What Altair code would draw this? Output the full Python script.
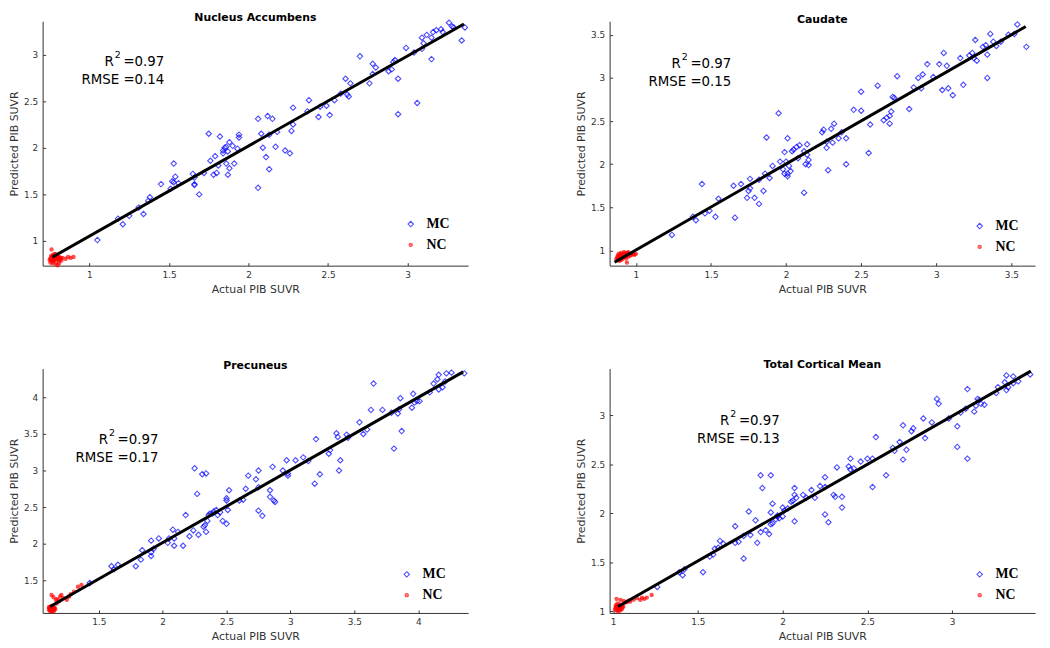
import altair as alt
import pandas as pd

# ---------------- data ----------------
titles = ["Nucleus Accumbens", "Caudate", "Precuneus", "Total Cortical Mean"]
groups = ["MC", "NC"]
r2_values = ["0.97", "0.97", "0.97", "0.97"]
rmse_values = ["0.14", "0.15", "0.17", "0.13"]

# Nucleus Accumbens (actual, predicted)
acc_mc = [(1.05,1.01),(1.18,1.24),(1.21,1.18),(1.25,1.27),(1.31,1.36),(1.34,1.29),(1.37,1.43),(1.38,1.47),
          (1.45,1.61),(1.51,1.56),(1.52,1.64),(1.53,1.83),(1.53,1.63),(1.54,1.69),(1.56,1.62),(1.65,1.72),
          (1.66,1.68),(1.66,1.61),(1.66,1.60),(1.69,1.50),(1.72,1.73),(1.75,2.15),(1.76,1.86),(1.78,1.71),
          (1.79,1.91),(1.80,1.73),(1.81,1.81),(1.82,2.12),(1.84,1.97),(1.84,1.94),(1.85,2.00),(1.86,1.83),
          (1.86,2.01),(1.87,1.71),(1.87,1.96),(1.88,2.06),(1.88,1.78),(1.90,2.02),(1.91,1.83),(1.93,1.99),
          (1.94,2.14),(1.94,2.11),(2.06,2.31),(2.06,1.57),(2.08,2.15),(2.09,2.00),(2.11,1.90),(2.12,2.34),
          (2.13,1.77),(2.13,2.14),(2.15,2.31),(2.17,2.01),(2.18,2.17),(2.23,1.97),(2.26,1.94),(2.27,2.18),
          (2.28,2.25),(2.28,2.43),(2.37,2.39),(2.38,2.51),(2.44,2.33),(2.45,2.44),(2.49,2.45),(2.51,2.35),
          (2.54,2.51),(2.58,2.58),(2.61,2.74),(2.62,2.57),(2.63,2.55),(2.64,2.69),(2.70,2.98),(2.76,2.69),
          (2.78,2.79),(2.78,2.90),(2.80,2.86),(2.88,2.82),(2.90,2.84),(2.91,2.92),(2.92,2.94),(2.94,2.74),
          (2.94,2.36),(2.99,3.07),(3.04,3.02),(3.06,2.48),(3.09,3.06),(3.09,3.18),(3.10,3.12),(3.12,3.21),
          (3.15,3.18),(3.15,2.95),(3.16,3.24),(3.18,3.26),(3.21,3.27),(3.22,3.24),(3.26,3.34),(3.28,3.30),
          (3.29,3.29),(3.34,3.15),(3.36,3.29)]
acc_nc = [(0.75,0.80),(0.755,0.81),(0.76,0.79),(0.76,0.82),(0.765,0.80),(0.765,0.83),(0.77,0.81),(0.77,0.78),
          (0.77,0.85),(0.775,0.82),(0.775,0.80),(0.78,0.84),(0.78,0.79),(0.785,0.82),(0.785,0.86),(0.79,0.81),
          (0.79,0.83),(0.795,0.80),(0.80,0.84),(0.80,0.82),(0.805,0.82),(0.81,0.83),(0.81,0.79),(0.815,0.81),
          (0.82,0.82),(0.83,0.82),(0.85,0.81),(0.866,0.83),(0.882,0.82),(0.90,0.83),(0.762,0.91),(0.782,0.86),
          (0.795,0.845),(0.824,0.79),(0.81,0.765),(0.789,0.757),(0.80,0.74),(0.755,0.77),(0.77,0.76),(0.76,0.84)]
acc_fit = [(0.768,0.828),(3.354,3.327)]

# Caudate
cau_mc = [(1.24,1.18),(1.38,1.39),(1.40,1.35),(1.44,1.77),(1.46,1.43),(1.49,1.46),(1.53,1.39),(1.55,1.60),
          (1.65,1.75),(1.66,1.38),(1.70,1.77),(1.74,1.61),(1.75,1.69),(1.76,1.72),(1.76,1.83),(1.79,1.61),
          (1.82,1.54),(1.82,1.82),(1.85,1.69),(1.86,1.89),(1.87,2.31),(1.89,1.84),(1.91,1.98),(1.95,2.59),
          (1.96,2.03),(1.98,1.94),(1.99,2.14),(1.99,1.89),(2.00,2.03),(2.01,1.86),(2.01,2.30),(2.01,1.89),
          (2.02,1.98),(2.03,1.92),(2.04,2.15),(2.05,2.17),(2.07,2.20),(2.08,2.07),(2.09,2.22),(2.12,2.15),
          (2.12,1.67),(2.13,2.00),(2.14,2.23),(2.14,2.11),(2.15,2.05),(2.15,1.99),(2.24,2.37),(2.25,2.40),
          (2.27,2.26),(2.27,2.19),(2.28,1.93),(2.30,2.41),(2.31,2.25),(2.32,2.47),(2.35,2.30),(2.37,2.37),
          (2.40,2.00),(2.40,2.30),(2.45,2.63),(2.50,2.84),(2.50,2.62),(2.55,2.13),(2.56,2.46),(2.61,2.91),
          (2.65,2.51),(2.67,2.54),(2.69,2.56),(2.69,2.47),(2.70,2.61),(2.71,2.78),(2.72,2.77),(2.74,3.02),
          (2.82,2.64),(2.85,2.89),(2.88,3.00),(2.90,2.88),(2.91,3.04),(2.94,3.16),(2.98,3.01),(3.02,3.16),
          (3.04,2.86),(3.05,3.29),(3.07,3.14),(3.08,2.88),(3.11,2.80),(3.18,2.92),(3.16,3.23),(3.22,3.26),
          (3.24,3.29),(3.25,3.23),(3.26,3.44),(3.27,3.20),(3.31,3.36),(3.33,3.38),(3.34,3.00),(3.34,3.27),
          (3.36,3.51),(3.38,3.42),(3.40,3.37),(3.43,3.42),(3.48,3.50),(3.52,3.51),(3.54,3.62),(3.60,3.36)]
cau_nc = [(0.87,0.90),(0.875,0.92),(0.88,0.89),(0.88,0.94),(0.885,0.91),(0.89,0.93),(0.89,0.88),(0.895,0.95),
          (0.90,0.91),(0.90,0.97),(0.905,0.93),(0.91,0.90),(0.91,0.96),(0.915,0.94),(0.92,0.92),(0.92,0.98),
          (0.925,0.95),(0.93,0.93),(0.93,0.97),(0.935,0.91),(0.94,0.95),(0.94,0.86),(0.945,0.97),(0.95,0.93),
          (0.955,0.96),(0.96,0.94),(0.97,0.95),(0.98,0.96),(0.99,0.95),(1.00,0.96),(0.90,0.89),(0.885,0.96),
          (0.95,0.98)]
cau_fit = [(0.858,0.863),(3.596,3.596)]

# Precuneus
pre_mc = [(1.43,1.46),(1.60,1.69),(1.62,1.65),(1.65,1.71),(1.79,1.69),(1.83,1.78),(1.84,1.91),(1.91,1.83),
          (1.91,2.04),(1.91,1.88),(1.93,1.93),(1.97,2.07),(2.04,2.01),(2.05,2.07),(2.08,2.19),(2.09,2.07),
          (2.09,1.97),(2.12,2.16),(2.16,1.97),(2.18,2.39),(2.21,2.10),(2.24,2.18),(2.25,3.03),(2.27,2.68),
          (2.28,2.12),(2.31,2.95),(2.32,2.23),(2.33,2.25),(2.34,2.16),(2.34,2.96),(2.35,2.31),(2.36,2.39),
          (2.37,2.41),(2.39,2.41),(2.40,2.44),(2.42,2.46),(2.43,2.39),(2.45,2.43),(2.47,2.31),(2.50,2.62),
          (2.50,2.27),(2.50,2.59),(2.51,2.46),(2.52,2.73),(2.60,2.59),(2.63,2.60),(2.65,2.75),(2.67,2.93),
          (2.73,2.88),(2.75,2.45),(2.75,3.00),(2.75,2.77),(2.78,2.38),(2.84,2.73),(2.84,2.64),(2.86,3.05),
          (2.87,2.59),(2.88,2.57),(2.94,3.00),(2.97,3.14),(2.98,2.96),(2.98,2.93),(3.04,3.14),(3.10,3.18),
          (3.14,3.13),(3.19,2.82),(3.20,3.43),(3.23,2.95),(3.30,3.23),(3.31,3.28),(3.36,3.51),(3.37,3.46),
          (3.38,3.00),(3.39,3.14),(3.44,3.49),(3.45,3.45),(3.54,3.66),(3.57,3.50),(3.60,3.56),(3.63,3.83),
          (3.65,4.19),(3.72,3.83),(3.79,3.79),(3.81,3.30),(3.84,3.78),(3.85,3.84),(3.86,3.99),(3.87,3.54),
          (3.95,3.86),(3.96,4.05),(3.97,3.93),(3.99,3.95),(4.01,3.95),(4.09,4.07),(4.12,4.19),(4.15,4.25),
          (4.16,4.31),(4.16,4.11),(4.19,4.14),(4.21,4.22),(4.22,4.33),(4.26,4.34),(4.36,4.33)]
pre_nc = [(1.11,1.10),(1.115,1.12),(1.12,1.09),(1.12,1.13),(1.125,1.11),(1.13,1.08),(1.13,1.14),(1.135,1.10),
          (1.14,1.12),(1.14,1.09),(1.145,1.13),(1.15,1.11),(1.15,1.08),(1.155,1.12),(1.12,1.11),(1.13,1.12),
          (1.14,1.15),(1.115,1.08),(1.125,1.14),(1.135,1.07),(1.145,1.10),(1.11,1.13),(1.16,1.10),
          (1.131,1.297),(1.146,1.266),(1.164,1.23),(1.177,1.24),(1.198,1.275),(1.208,1.297),(1.224,1.253),
          (1.25,1.23),(1.268,1.275),(1.28,1.307),(1.306,1.342),(1.337,1.41),(1.365,1.432),(1.19,1.21),(1.17,1.18)]
pre_fit = [(1.121,1.139),(4.351,4.351)]

# Total Cortical Mean
tot_mc = [(1.26,1.25),(1.39,1.40),(1.41,1.37),(1.42,1.43),(1.53,1.40),(1.57,1.56),(1.59,1.58),(1.60,1.64),
          (1.62,1.65),(1.63,1.72),(1.65,1.69),(1.72,1.70),(1.72,1.87),(1.74,1.71),(1.77,1.54),(1.77,1.77),
          (1.80,2.02),(1.81,1.78),(1.84,1.93),(1.85,1.70),(1.87,1.81),(1.87,2.39),(1.88,2.26),(1.90,1.83),
          (1.92,1.79),(1.93,2.39),(1.93,1.89),(1.93,2.01),(1.94,2.10),(1.94,1.90),(1.96,1.94),(1.97,1.97),
          (1.97,1.98),(1.98,1.95),(2.00,1.97),(2.00,2.06),(2.01,2.03),(2.03,2.05),(2.05,2.12),(2.06,2.13),
          (2.07,2.19),(2.07,2.26),(2.07,1.92),(2.08,2.16),(2.12,2.19),(2.14,2.16),(2.17,2.24),(2.19,2.16),
          (2.22,2.28),(2.25,1.99),(2.25,2.37),(2.25,2.27),(2.27,1.91),(2.30,2.19),(2.31,2.17),(2.32,2.47),
          (2.35,2.06),(2.35,2.17),(2.39,2.48),(2.40,2.56),(2.40,2.45),(2.42,2.46),(2.46,2.53),(2.50,2.56),
          (2.53,2.56),(2.53,2.27),(2.55,2.78),(2.61,2.39),(2.65,2.67),(2.66,2.64),(2.69,2.73),(2.71,2.55),
          (2.71,2.90),(2.73,2.65),(2.76,2.84),(2.77,2.87),(2.83,2.97),(2.84,2.77),(2.88,2.93),(2.91,3.17),
          (2.92,3.12),(2.98,2.97),(3.03,2.68),(3.03,2.89),(3.05,3.03),(3.08,3.07),(3.09,2.56),(3.09,3.27),
          (3.13,3.04),(3.14,3.10),(3.15,3.17),(3.16,3.16),(3.17,3.12),(3.19,3.11),(3.26,3.23),(3.27,3.29),
          (3.31,3.34),(3.32,3.41),(3.32,3.26),(3.33,3.29),(3.36,3.40),(3.36,3.33),(3.39,3.35),(3.46,3.42)]
tot_nc = [(1.01,1.02),(1.015,1.04),(1.02,1.01),(1.02,1.05),(1.025,1.03),(1.03,1.02),(1.03,1.06),(1.035,1.04),
          (1.04,1.01),(1.04,1.05),(1.045,1.03),(1.05,1.06),(1.05,1.02),(1.02,1.03),(1.03,1.00),(1.04,1.07),
          (1.015,1.06),(1.055,1.04),(1.06,1.05),(1.025,1.08),(1.02,1.128),(1.043,1.118),(1.062,1.108),
          (1.082,1.095),(1.10,1.10),(1.14,1.135),(1.16,1.118),(1.183,1.128),(1.198,1.141),(1.227,1.168),
          (1.17,1.14),(1.07,1.09),(1.09,1.11),(1.12,1.12)]
tot_fit = [(1.029,1.05),(3.464,3.454)]

x_domains = [(0.706, 3.38), (0.825, 3.658), (1.061, 4.39), (0.979, 3.489)]
y_domains = [(0.736, 3.356), (0.824, 3.657), (1.05, 4.396), (0.984, 3.48)]
x_ticks = [[1, 1.5, 2, 2.5, 3], [1, 1.5, 2, 2.5, 3, 3.5], [1.5, 2, 2.5, 3, 3.5, 4], [1, 1.5, 2, 2.5, 3]]
y_ticks = [[1, 1.5, 2, 2.5, 3], [1, 1.5, 2, 2.5, 3, 3.5], [1.5, 2, 2.5, 3, 3.5, 4], [1, 1.5, 2, 2.5, 3]]

mc_sets = [acc_mc, cau_mc, pre_mc, tot_mc]
nc_sets = [acc_nc, cau_nc, pre_nc, tot_nc]
fit_sets = [acc_fit, cau_fit, pre_fit, tot_fit]

# ---------------- layout / style ----------------
W, H = 430, 247
ann_pos = [(123, 45, 63), (123, 47, 65), (117, 76, 94), (172, 57, 75)]
legend_pos = [(365, 198), (367, 200), (361, 201), (367, 201)]

BLUE = "#0000ff"
RED = "#ff0000"
FONT = "DejaVu Sans"


def ann_text(txt, x, y, size, align):
    return alt.Chart(pd.DataFrame({"t": [txt]})).mark_text(
        align=align, baseline="alphabetic", fontSize=size, font=FONT, color="black"
    ).encode(x=alt.value(x), y=alt.value(y), text="t:N")


def panel(i):
    rows = [{"actual": a, "pred": p, "group": "MC"} for a, p in mc_sets[i]]
    rows += [{"actual": a, "pred": p, "group": "NC"} for a, p in nc_sets[i]]
    df = pd.DataFrame(rows)
    fit = pd.DataFrame(fit_sets[i], columns=["actual", "pred"])

    xs = alt.Scale(domain=list(x_domains[i]), nice=False, zero=False)
    ys = alt.Scale(domain=list(y_domains[i]), nice=False, zero=False)
    lx, ly = legend_pos[i]
    leg = alt.Legend(orient="none", legendX=lx, legendY=ly, title=None,
                     labelFont="Liberation Serif", labelFontWeight="bold",
                     labelFontSize=14, labelColor="black", labelOffset=9,
                     rowPadding=7, symbolStrokeWidth=1.1, padding=0)

    pts = alt.Chart(df).mark_point(strokeWidth=1.1).encode(
        x=alt.X("actual:Q", scale=xs,
                axis=alt.Axis(values=x_ticks[i], title="Actual PIB SUVR", format="~g")),
        y=alt.Y("pred:Q", scale=ys,
                axis=alt.Axis(values=y_ticks[i], title="Predicted PIB SUVR", format="~g")),
        shape=alt.Shape("group:N", scale=alt.Scale(domain=groups, range=["diamond", "circle"]), legend=leg),
        stroke=alt.Stroke("group:N", scale=alt.Scale(domain=groups, range=[BLUE, RED]), legend=leg),
        fill=alt.Fill("group:N", scale=alt.Scale(domain=groups, range=["transparent", RED]), legend=leg),
        size=alt.Size("group:N", scale=alt.Scale(domain=groups, range=[30, 11]), legend=leg),
    )

    line = alt.Chart(fit).mark_line(color="black", strokeWidth=3).encode(
        x=alt.X("actual:Q", scale=xs,
                axis=alt.Axis(orient="top", offset=-H, labels=False, domain=False, ticks=True,
                              tickSize=3, tickColor="#333333", values=x_ticks[i], title=None, grid=False)),
        y=alt.Y("pred:Q", scale=ys,
                axis=alt.Axis(orient="right", offset=-W, labels=False, domain=False, ticks=True,
                              tickSize=3, tickColor="#333333", values=y_ticks[i], title=None, grid=False)),
    )

    ax, y1, y2 = ann_pos[i]
    r2_eq = ann_text("=" + r2_values[i], ax, y1, 13.5, "right")
    r2_r = ann_text("R", ax - 51, y1, 13.5, "right")
    r2_sup = ann_text("2", ax - 50, y1 - 8, 9.5, "left")
    rmse = ann_text("RMSE =" + rmse_values[i], ax, y2, 13.5, "right")

    return alt.layer(pts, line, r2_eq, r2_r, r2_sup, rmse).resolve_axis(
        x="independent", y="independent"
    ).properties(width=W, height=H, title=titles[i])


chart = alt.concat(
    *[panel(i) for i in range(4)], columns=2,
    spacing={"row": 104, "column": 143}, bounds="flush"
).resolve_scale(
    shape="independent", stroke="independent", fill="independent", size="independent"
).resolve_legend(
    shape="independent", stroke="independent", fill="independent", size="independent"
).properties(
    padding={"left": 0, "top": 0, "right": 5, "bottom": 0}, background="white"
).configure_view(stroke=None).configure_axis(
    grid=False, domainColor="#333333", domainWidth=1, ticks=False, tickSize=0,
    labelFont=FONT, labelFontSize=9, labelColor="#333333", labelPadding=5,
    titleFont=FONT, titleFontSize=11, titleFontWeight="normal", titleColor="#333333",
    titlePadding=4
).configure_title(
    font=FONT, fontSize=11, fontWeight="bold", color="black", anchor="middle", offset=-5
)

chart.save("out.html", embed_options={"renderer": "svg", "actions": False})
